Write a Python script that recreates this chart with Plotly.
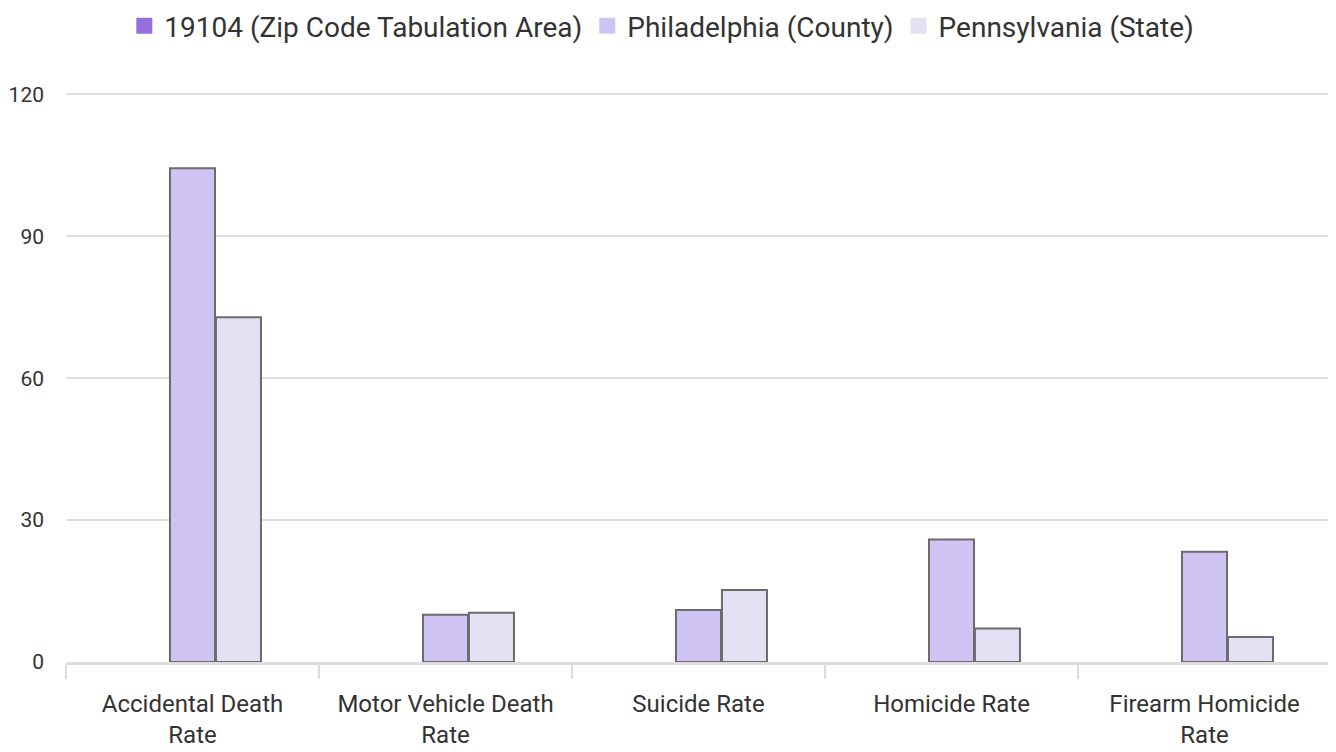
import plotly.graph_objects as go

categories = ["Accidental Death<br>Rate", "Motor Vehicle Death<br>Rate", "Suicide Rate",
              "Homicide Rate", "Firearm Homicide<br>Rate"]
zip_19104 = [None, None, None, None, None]
philadelphia = [104.4, 10.0, 11.0, 25.9, 23.3]
pennsylvania = [72.9, 10.4, 15.2, 7.1, 5.3]
y_ticks = [0, 30, 60, 90, 120]

series = [
    ("19104 (Zip Code Tabulation Area)", zip_19104, "#9370DB"),
    ("Philadelphia (County)", philadelphia, "#D0C4F4"),
    ("Pennsylvania (State)", pennsylvania, "#E4E1F4"),
]

fig = go.Figure()
for name, vals, color in series:
    fig.add_trace(go.Bar(
        x=categories, y=vals, name=name, showlegend=False, legendgroup=name,
        marker=dict(color=color, line=dict(color="#6b6b6b", width=2)),
    ))
for name, vals, color in series:
    fig.add_trace(go.Scatter(
        x=[None], y=[None], mode="markers", name=name, legendgroup=name,
        marker=dict(symbol="square", size=20, color=color, line=dict(width=0)),
    ))

# the page body has an 8px default margin, so the figure is sized to compensate
fig.update_layout(
    width=1328, height=744,
    paper_bgcolor="white", plot_bgcolor="white",
    font=dict(family="Roboto", size=24, color="#333333"),
    margin=dict(l=58, r=5, t=84, b=90, autoexpand=False),
    barmode="group", bargap=0.455, bargroupgap=0.02,
    legend=dict(orientation="h", x=0.471, xanchor="center", y=1.1596, yanchor="top",
                font=dict(size=28, color="#333333"),
                itemwidth=30, traceorder="normal", tracegroupgap=0),
    showlegend=True,
)
fig.update_xaxes(
    showline=True, linecolor="#dddddd", linewidth=3,
    ticks="outside", tickson="boundaries", ticklen=14, tickcolor="#dddddd", tickwidth=2,
    showgrid=False, tickfont=dict(size=24, color="#333333"), ticklabelstandoff=18,
)
fig.update_yaxes(
    range=[0, 120.5], tickvals=y_ticks,
    showgrid=True, gridcolor="#dddddd", gridwidth=1.5,
    zeroline=False, showline=False, ticks="", ticklabelstandoff=21,
    tickfont=dict(size=21, color="#333333"),
)

fig.write_html("out.html")
